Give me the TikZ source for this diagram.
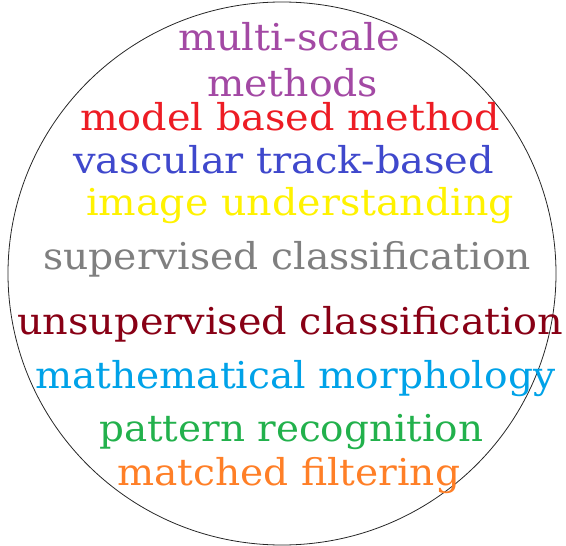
\documentclass[tikz,border=0pt]{standalone}
\usepackage{fontspec}
\setmainfont{DejaVu Serif}
\usepackage{graphicx}
\definecolor{cpurple}{HTML}{A349A4}
\definecolor{cred}{HTML}{ED1C24}
\definecolor{cblue}{HTML}{3F48CC}
\definecolor{cyellow}{HTML}{FFF200}
\definecolor{cgray}{HTML}{7F7F7F}
\definecolor{cdarkred}{HTML}{880015}
\definecolor{clightblue}{HTML}{00A2E8}
\definecolor{cgreen}{HTML}{22B14C}
\definecolor{corange}{HTML}{FF7F27}
\newcommand{\fitw}[2]{\resizebox{#1pt}{\height}{#2}}
\begin{document}
\begin{tikzpicture}[x=1pt,y=-1pt,
  lbl/.style={anchor=base west, inner sep=0pt, font=\fontsize{37}{37}\selectfont},
  rim/.style={draw=black!85, line width=0.8pt}]
\useasboundingbox (0,0) rectangle (566,546);
\draw[rim] (282,273.5) ellipse [x radius=274, y radius=271.5];
\node[lbl, text=cpurple]    (t1)  at (178,50)  {\fitw{222}{multi-scale}};
\node[lbl, text=cpurple]    (t2)  at (207,96)  {\fitw{171}{methods}};
\node[lbl, text=cred]       (t3)  at (80,130)  {\fitw{420}{model based method}};
\node[lbl, text=cblue]      (t4)  at (73,173)  {\fitw{421}{vascular track-based}};
\node[lbl, text=cyellow]    (t5)  at (86,215)  {\fitw{428}{image understanding}};
\node[lbl, text=cgray]      (t6)  at (43,269)  {\fitw{488}{supervised classification}};
\node[lbl, text=cdarkred]   (t7)  at (17,334)  {\fitw{546}{unsupervised classification}};
\node[lbl, text=clightblue] (t8)  at (35,388)  {\fitw{520}{mathematical morphology}};
\node[lbl, text=cgreen]     (t9)  at (99,441)  {\fitw{384}{pattern recognition}};
\node[lbl, text=corange]    (t10) at (117,485) {\fitw{343}{matched filtering}};
\end{tikzpicture}
\end{document}
